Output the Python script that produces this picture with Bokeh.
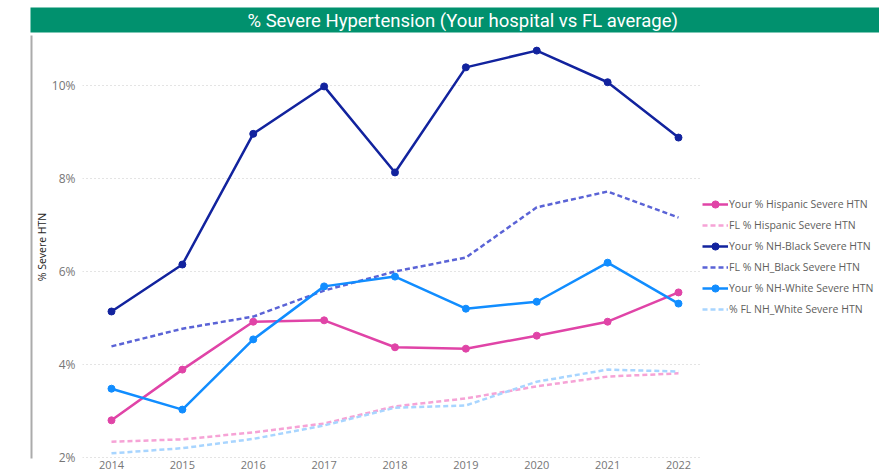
from bokeh.plotting import figure
from bokeh.models import (FixedTicker, PrintfTickFormatter, Legend, LegendItem,
                          Title, LinearAxis, Range1d, BoxAnnotation)
from bokeh.embed import file_html
from bokeh.resources import INLINE

years = [2014, 2015, 2016, 2017, 2018, 2019, 2020, 2021, 2022]
your_hispanic = [2.80, 3.89, 4.92, 4.95, 4.37, 4.34, 4.62, 4.92, 5.55]
fl_hispanic = [2.34, 2.39, 2.54, 2.73, 3.10, 3.27, 3.53, 3.74, 3.81]
your_black = [5.14, 6.15, 8.96, 9.98, 8.13, 10.39, 10.75, 10.07, 8.88]
fl_black = [4.39, 4.77, 5.03, 5.59, 6.00, 6.30, 7.38, 7.72, 7.16]
your_white = [3.48, 3.03, 4.54, 5.68, 5.89, 5.20, 5.35, 6.19, 5.31]
fl_white = [2.09, 2.20, 2.40, 2.69, 3.07, 3.12, 3.63, 3.89, 3.85]
y_ticks = [2, 4, 6, 8, 10]

series = [
    ("Your % Hispanic Severe HTN", your_hispanic, "#E044A7", "solid"),
    ("FL % Hispanic Severe HTN", fl_hispanic, "#F6A3D6", "dashed"),
    ("Your % NH-Black Severe HTN", your_black, "#12239E", "solid"),
    ("FL % NH_Black Severe HTN", fl_black, "#5A63D6", "dashed"),
    ("Your % NH-White Severe HTN", your_white, "#118DFF", "solid"),
    ("% FL NH_White Severe HTN", fl_white, "#A8D5FF", "dashed"),
]
title_text = "% Severe Hypertension (Your hospital vs FL average)"

# layout constants (plot area extends under the legend column)
X_START, X_PLOT_END, X_END = 2013.591, 2022.31, 2024.836

title = Title(text=title_text, align="left", offset=-52, standoff=6,
              text_font="Roboto", text_font_size="18.5px",
              text_font_style="normal", text_color="white",
              background_fill_color="#01916E",
              padding=dict(left=217, right=320, top=2, bottom=1))

p = figure(width=879, height=473, output_backend="svg", toolbar_location=None,
           x_range=(X_START, X_END), y_range=(1.9785, 11.075),
           min_border_left=82, min_border_right=0, min_border_top=35,
           min_border_bottom=15, title=title)
p.outline_line_color = None

items = []
for name, vals, color, style in series:
    if style == "solid":
        r1 = p.line(years, vals, line_color=color, line_width=2.5)
        r2 = p.scatter(years, vals, size=7, fill_color=color, line_color=color)
        items.append(LegendItem(label=name, renderers=[r1, r2]))
    else:
        r1 = p.line(years, vals, line_color=color, line_width=2.5, line_dash="5 3")
        items.append(LegendItem(label=name, renderers=[r1]))

# white panel behind the legend column so gridlines stop at the plot edge
p.add_layout(BoxAnnotation(left=X_PLOT_END, fill_color="white", fill_alpha=1,
                           line_color=None, level="underlay"))

legend = Legend(items=items, location=(620, 140), orientation="vertical",
                label_text_font="Open Sans", label_text_font_size="10.5px",
                label_text_color="#605E5C", glyph_width=26, glyph_height=18,
                label_height=18, spacing=3, padding=4, margin=0,
                label_standoff=1, border_line_color=None,
                background_fill_alpha=0)
p.add_layout(legend, "center")

p.xaxis.ticker = FixedTicker(ticks=years)
p.xaxis.axis_line_color = None
p.xaxis.major_tick_line_color = None
p.xaxis.minor_tick_line_color = None
p.xaxis.major_tick_out = 0
p.xaxis.major_tick_in = 0
p.xaxis.major_label_text_font = "Open Sans"
p.xaxis.major_label_text_font_size = "11px"
p.xaxis.major_label_text_color = "#767676"
p.xaxis.major_label_standoff = 2

p.yaxis.ticker = FixedTicker(ticks=y_ticks)
p.yaxis.formatter = PrintfTickFormatter(format="%d%%")
p.yaxis.axis_line_color = None
p.yaxis.major_tick_line_color = None
p.yaxis.minor_tick_line_color = None
p.yaxis.major_tick_out = 0
p.yaxis.major_tick_in = 0
p.yaxis.major_label_text_font = "Open Sans"
p.yaxis.major_label_text_font_size = "12px"
p.yaxis.major_label_text_color = "#767676"
p.yaxis.major_label_standoff = 7
p.yaxis.axis_label = "% Severe HTN"
p.yaxis.axis_label_text_font = "Open Sans"
p.yaxis.axis_label_text_font_size = "10.5px"
p.yaxis.axis_label_text_font_style = "normal"
p.yaxis.axis_label_text_color = "#252423"
p.yaxis.axis_label_standoff = 0

# left gray border line drawn as an extra (label-less) axis line
p.extra_y_ranges = {"border": Range1d(0, 1)}
border_axis = LinearAxis(y_range_name="border",
                         ticker=FixedTicker(ticks=[]),
                         major_label_text_font_size="0px",
                         major_tick_out=0, major_tick_in=0, minor_tick_out=0,
                         major_label_standoff=0,
                         axis_line_color="#ABABAB", axis_line_width=2)
p.add_layout(border_axis, "left")

p.xgrid.grid_line_color = None
p.ygrid.grid_line_color = "#C8C8C8"
p.ygrid.grid_line_dash = "1 3"

open("out.html", "w").write(file_html(p, INLINE))
